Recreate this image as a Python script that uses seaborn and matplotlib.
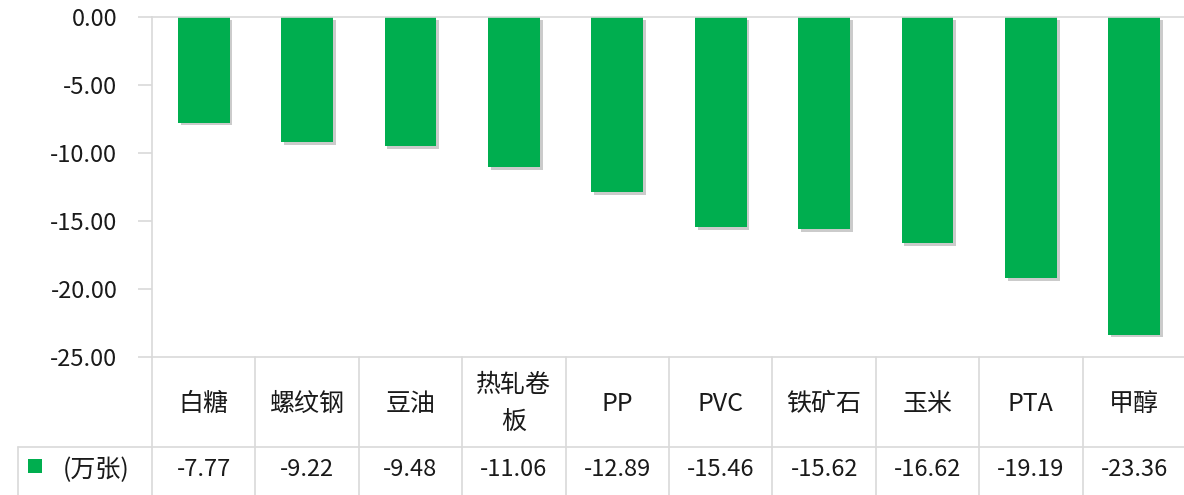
import numpy as np
import matplotlib
matplotlib.use("Agg")
import matplotlib.pyplot as plt
import matplotlib.patheffects as pe
from matplotlib.lines import Line2D
from matplotlib.patches import Rectangle
import matplotlib.transforms as mtrans
import seaborn as sns

categories = ["白糖", "螺纹钢", "豆油", "热轧卷板", "PP", "PVC", "铁矿石", "玉米", "PTA", "甲醇"]
values = [-7.77, -9.22, -9.48, -11.06, -12.89, -15.46, -15.62, -16.62, -19.19, -23.36]
series_name = "(万张)"
yticks = [0, -5, -10, -15, -20, -25]

sns.set_theme(style="white")
plt.rcParams['font.family'] = ['Noto Sans CJK SC', 'DejaVu Sans']

W, H = 1184, 495
GREEN = '#00AE4F'
GRID = '#D9D9D9'
TXT = '#1a1a1a'
FS = 17
FS_CJK = 18

fig = plt.figure(figsize=(W / 100, H / 100), dpi=100)
ax = fig.add_axes([152 / W, 1 - 357 / H, (1186 - 152) / W, 340 / H])

sns.barplot(x=categories, y=values, color=GREEN, saturation=1, width=0.5, ax=ax,
            order=categories, edgecolor='none', linewidth=0)
for p in ax.patches:
    p.set_path_effects([pe.SimplePatchShadow(offset=(2, -2), shadow_rgbFace='#555555', alpha=0.3),
                        pe.Normal()])

ax.set_xlim(-0.5, len(categories) - 0.5)
ax.set_ylim(-25, 0)
ax.set_yticks(yticks)
ax.set_yticklabels([f"{v:.2f}" for v in yticks], fontsize=FS, color=TXT)
ax.set_xticks([])
ax.set_xlabel("")
ax.set_ylabel("")
for s in ['top', 'left', 'bottom']:
    ax.spines[s].set_visible(True)
    ax.spines[s].set_color(GRID)
    ax.spines[s].set_linewidth(1.2)
ax.spines['right'].set_visible(False)
ax.tick_params(axis='y', direction='out', length=10, width=1.2, color=GRID, pad=15, left=True)

def fy(py):
    return 1 - py / H

blend = mtrans.blended_transform_factory(ax.transData, fig.transFigure)
n = len(categories)

# table lines
fig.add_artist(Line2D([18 / W, 1], [fy(447), fy(447)], color=GRID, lw=1.2, transform=fig.transFigure))
fig.add_artist(Line2D([18 / W, 18 / W], [fy(447), 0], color=GRID, lw=1.2, transform=fig.transFigure))
for i in range(n + 1):
    xb = i - 0.5
    fig.add_artist(Line2D([xb, xb], [fy(357), 0], color=GRID, lw=1.2, transform=blend))

# category labels and values
for i, (c, v) in enumerate(zip(categories, values)):
    label = c if len(c) <= 3 else c[:3] + "\n" + c[3:]
    fig.text(i, fy(404), label, transform=blend, ha='center', va='center',
             fontsize=FS_CJK, color=TXT, linespacing=1.55)
    fig.text(i, fy(470), f"{v:.2f}", transform=blend, ha='center', va='center',
             fontsize=FS, color=TXT)

# legend cell
fig.add_artist(Rectangle((28 / W, fy(473)), 14 / W, 14 / H, facecolor=GREEN, edgecolor='none',
                         transform=fig.transFigure))
fig.text(96 / W, fy(470), series_name, ha='center', va='center', fontsize=FS_CJK, color=TXT)

fig.savefig("out.png", dpi=100)
